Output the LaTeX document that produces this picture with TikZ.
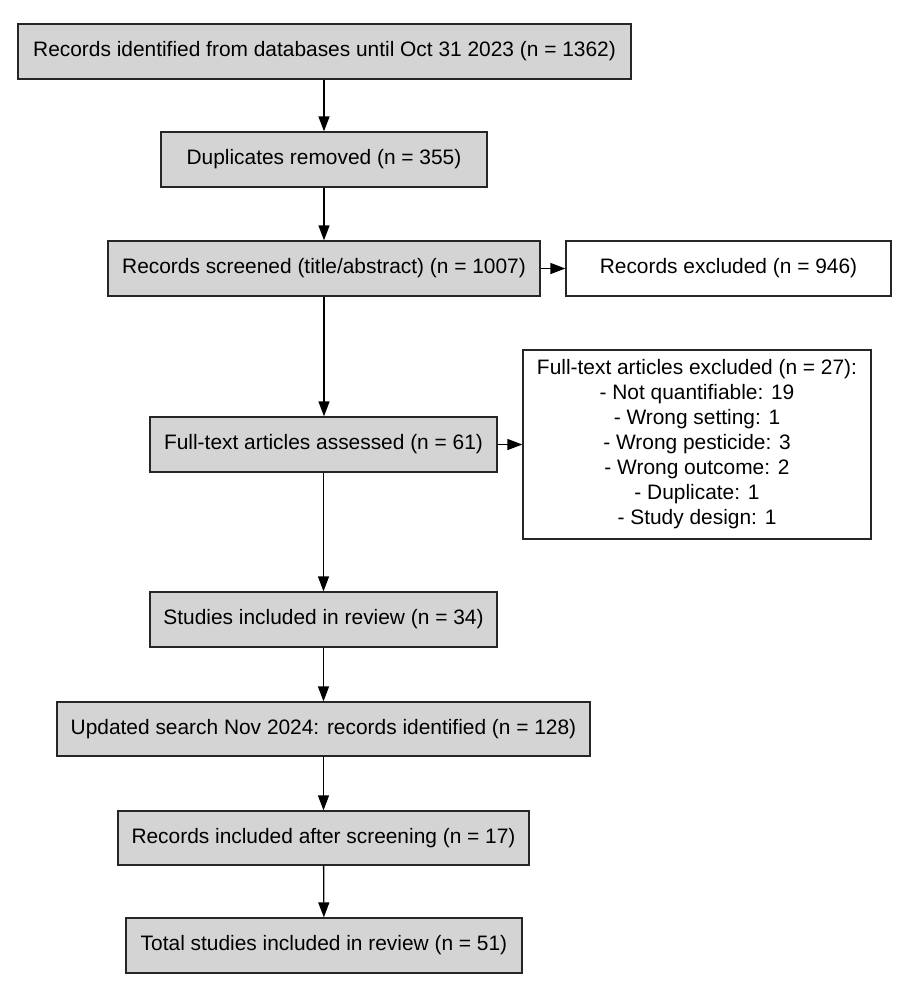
\documentclass[tikz,border=0pt]{standalone}
\usepackage{fontspec}
\setmainfont{Liberation Sans}
\usetikzlibrary{arrows.meta}
\begin{document}
\begin{tikzpicture}[x=1pt,y=-1pt,
  box/.style={draw=black!85, line width=1.3pt, fill=#1, inner sep=0pt, align=center, font=\fontsize{20.9}{25}\selectfont},
  box/.default={black!17},
  arr/.style={line width=1.3pt, -{Triangle[length=15pt,width=11pt]}}]
\useasboundingbox (0,0) rectangle (911,989);
\node[box, minimum width=613, minimum height=55] (a) at (324.5,51.5) {Records identified from databases until Oct 31 2023 (n = 1362)};
\node[box, minimum width=326, minimum height=55] (b) at (324,159.5) {Duplicates removed (n = 355)};
\node[box, minimum width=432, minimum height=55] (c) at (324,268.5) {Records screened (title/abstract) (n = 1007)};
\node[box=white, minimum width=325, minimum height=55] (cx) at (728.5,268.5) {Records excluded (n = 946)};
\node[box, minimum width=347, minimum height=55] (d) at (323.5,444.5) {Full-text articles assessed (n = 61)};
\node[box=white, minimum width=348, minimum height=189, font=\fontsize{20.9}{25}\selectfont] (dx) at (697,444.5) {Full-text articles excluded (n = 27):\\- Not quantifiable: 19\\- Wrong setting: 1\\- Wrong pesticide: 3\\- Wrong outcome: 2\\- Duplicate: 1\\- Study design: 1};
\node[box, minimum width=347, minimum height=55] (e) at (323.5,619.5) {Studies included in review (n = 34)};
\node[box, minimum width=533, minimum height=54] (f) at (323.5,729) {Updated search Nov 2024: records identified (n = 128)};
\node[box, minimum width=411, minimum height=54] (g) at (323.5,838) {Records included after screening (n = 17)};
\node[box, minimum width=396, minimum height=55] (h) at (324,945.5) {Total studies included in review (n = 51)};
\draw[arr] (a.south -| b.north) -- (b.north);
\draw[arr] (b) -- (c);
\draw[arr] (c) -- (cx);
\draw[arr] (c.south) -- (c.south |- d.north);
\draw[arr] (d) -- (dx);
\draw[arr] (d) -- (e);
\draw[arr] (e) -- (f);
\draw[arr] (f) -- (g);
\draw[arr] (g) -- (h);
\end{tikzpicture}
\end{document}
